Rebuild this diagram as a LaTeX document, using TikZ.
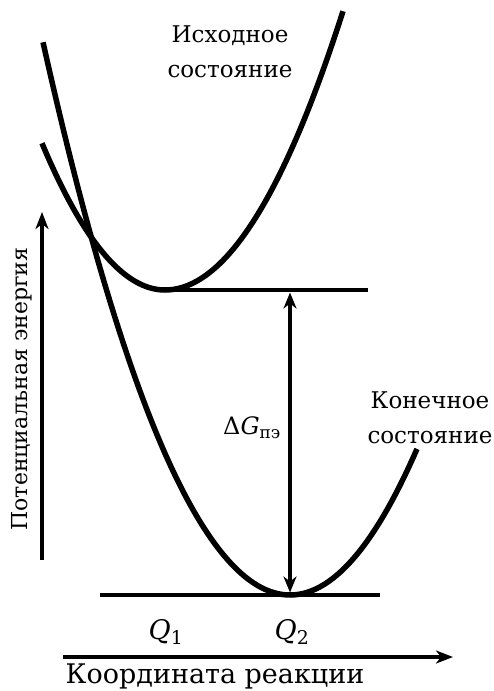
\documentclass[tikz,border=0pt]{standalone}
\usepackage{fontspec}
\setmainfont{DejaVu Serif}
\usetikzlibrary{arrows.meta}
\tikzset{
  curve/.style ={line width=5.5pt},
  lvl/.style   ={line width=4pt},
  axis/.style  ={line width=3.5pt, -{Stealth[length=17pt,width=13pt,inset=5pt]}},
  gap/.style   ={line width=4pt, {Stealth[length=16pt,width=13pt,inset=5pt]}-{Stealth[length=16pt,width=13pt,inset=5pt]}},
  lbl/.style   ={font=\fontsize{23}{35}\selectfont, align=center, inner sep=0pt},
  axlbl/.style ={font=\fontsize{22}{26}\selectfont, inner sep=0pt},
}
\begin{document}
\begin{tikzpicture}[x=1pt,y=-1pt]
\useasboundingbox (0,0) rectangle (493,691);
% potential curves
\draw[curve] plot[domain=42:165,samples=50] (\x,{290-0.97*((\x-165)/10)^2})
  -- plot[domain=165:343,samples=50] (\x,{290-0.88*((\x-165)/10)^2});
\draw[curve] plot[domain=43:417,samples=90] (\x,{595-0.906*((\x-290)/10)^2});
% levels
\coordinate (hiL) at (160,290); \coordinate (hiR) at (368,290);
\coordinate (loL) at (100,595); \coordinate (loR) at (380,595);
\draw[lvl] (hiL) -- (hiR);
\draw[lvl] (loL) -- (loR);
\coordinate (hi) at (290,292.5);
\coordinate (lo) at (290,592.5);
\draw[gap] (lo) -- (hi);
% axes
\coordinate (yfoot) at (42,560); \coordinate (ytop) at (42,212);
\coordinate (xfoot) at (63,657); \coordinate (xtip) at (453,657);
\draw[axis] (yfoot) -- (ytop);
\draw[axis] (xfoot) -- (xtip);
% labels
\node[lbl] (init) at (230,52) {Исходное\\состояние};
\node[lbl] (final) at (430,418) {Конечное\\состояние};
\node[lbl,font=\fontsize{24}{28}\selectfont] (dg) at (252,428) {Δ\textit{G}\textsubscript{пэ}};
\node[lbl,font=\fontsize{27}{30}\selectfont] (q1) at (166,632) {\textit{Q}\textsubscript{1}};
\node[lbl,font=\fontsize{27}{30}\selectfont] (q2) at (292,632) {\textit{Q}\textsubscript{2}};
\node[axlbl,rotate=90] (ylbl) at (22,389) {Потенциальная энергия};
\node[axlbl,anchor=base,font=\fontsize{27}{30}\selectfont] (xlbl) at (215,683) {Координата реакции};
\end{tikzpicture}
\end{document}
